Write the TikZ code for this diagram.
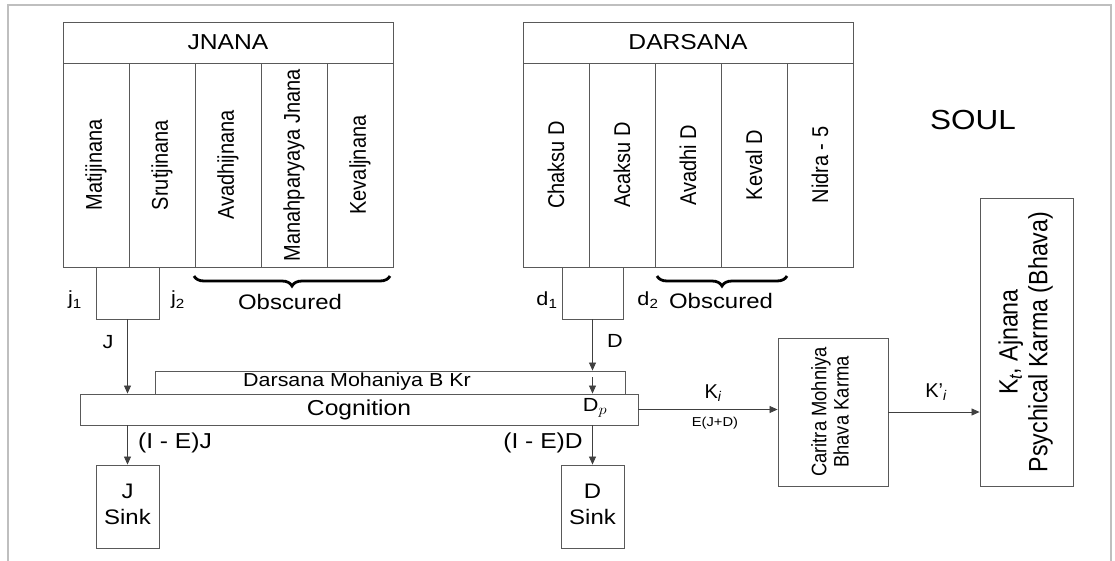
\documentclass[tikz,border=0pt]{standalone}
\usepackage{fontspec}
\setmainfont{Liberation Sans}
\usepackage{graphicx}
\usetikzlibrary{arrows.meta,decorations.pathreplacing,calc}

% horizontal text widened a little, rotated text likewise (as in the reference)
\newcommand\hwide[1]{\scalebox{1.14}[1]{#1}}
\newcommand\vwide[1]{\rotatebox{90}{\scalebox{1}[1.14]{#1}}}

\tikzset{
  box/.style={draw=black!65, line width=0.9pt, inner sep=0pt, align=center},
  arr/.style={draw=black!75, line width=0.8pt, -{Triangle[length=8pt,width=7pt]}},
  lbl/.style={inner sep=0pt, font=\fontsize{19}{22}\selectfont},
  col/.style={box, minimum width=66pt, minimum height=204pt, font=\fontsize{20}{24}\selectfont},
  hdr/.style={box, minimum width=330pt, minimum height=41pt, font=\fontsize{21.6}{26}\selectfont},
  smallbox/.style={box, minimum height=52pt},
  sinkbox/.style={box, minimum width=63pt, minimum height=83pt, font=\fontsize{21}{26}\selectfont},
  obrace/.style={decorate, decoration={brace, amplitude=10pt}, line width=2.8pt},
  frameline/.style={draw=black!25, line width=1.5pt},
}

\begin{document}
\begin{tikzpicture}[x=1pt,y=-1pt]
\useasboundingbox (0,0) rectangle (1115,560);
\draw[frameline] (8,565) -- (8,5) -- (1111,5) -- (1111,565);

% ---------- JNANA table ----------
\node[hdr] (jhead) at (228,42.5) {\hwide{JNANA}};
\node[col] (jc1) at (96,165)  {\vwide{Matijinana}};
\node[col] (jc2) at (162,165) {\vwide{Srutjinana}};
\node[col] (jc3) at (228,165) {\vwide{Avadhijnana}};
\node[col] (jc4) at (294,165) {\vwide{Manahparyaya Jnana}};
\node[col] (jc5) at (360,165) {\vwide{Kevaljnana}};
\node[smallbox, minimum width=63pt] (jbox) at (127.5,293) {};
\node[lbl] (j1) at (75,300) {\hwide{j\textsubscript{1}}};
\node[lbl] (j2) at (178,300) {\hwide{j\textsubscript{2}}};
\coordinate (jbA) at (390,276);
\coordinate (jbB) at (194,276);
\draw[obrace] (jbA) -- (jbB);
\node[lbl, font=\fontsize{21}{26}\selectfont] (jobs) at (290,302) {\hwide{Obscured}};

% ---------- DARSANA table ----------
\node[hdr] (dhead) at (688,42.5) {\hwide{DARSANA}};
\node[col] (dc1) at (556,165) {\vwide{Chaksu D}};
\node[col] (dc2) at (622,165) {\vwide{Acaksu D}};
\node[col] (dc3) at (688,165) {\vwide{Avadhi D}};
\node[col] (dc4) at (754,165) {\vwide{Keval D}};
\node[col] (dc5) at (820,165) {\vwide{Nidra - 5}};
\node[smallbox, minimum width=61pt] (dbox) at (592.5,293) {};
\node[lbl] (d1) at (547,300) {\hwide{d\textsubscript{1}}};
\node[lbl] (d2) at (648,300) {\hwide{d\textsubscript{2}}};
\coordinate (dbA) at (787,276);
\coordinate (dbB) at (657,276);
\draw[obrace] (dbA) -- (dbB);
\node[lbl, font=\fontsize{21}{26}\selectfont] (dobs) at (721,301) {\hwide{Obscured}};

\node[inner sep=0pt, font=\fontsize{27.6}{32}\selectfont] (soul) at (973,120) {\hwide{SOUL}};

% ---------- Cognition ----------
\node[box, minimum width=470pt, minimum height=23pt] (dm) at (390,382.5) {};
\node[inner sep=0pt, font=\fontsize{18.8}{22}\selectfont] (dmtext) at (357,382) {\hwide{Darsana Mohaniya B Kr}};
\node[box, fill=white, minimum width=558pt, minimum height=31pt, font=\fontsize{21.6}{26}\selectfont] (cog) at (359,409.5) {\hwide{Cognition}};
\node[lbl] (dp) at (595,408) {\hwide{D$_{p}$}};

\node[sinkbox] (jsink) at (127.5,506.5) {\hwide{\begin{tabular}{@{}c@{}}J\\Sink\end{tabular}}};
\node[sinkbox] (dsink) at (592.5,506.5) {\hwide{\begin{tabular}{@{}c@{}}D\\Sink\end{tabular}}};

\node[box, minimum width=110pt, minimum height=148pt, font=\fontsize{18.4}{19.5}\selectfont] (carit) at (833,412)
  {\vwide{\begin{tabular}{@{}c@{}}Caritra Mohniya\\Bhava Karma\end{tabular}}};
\node[box, minimum width=93pt, minimum height=288pt, font=\fontsize{23.2}{26}\selectfont] (bhava) at (1026.5,342)
  {\vwide{\begin{tabular}{@{}c@{}}K\textsubscript{\itshape t}, Ajnana\\Psychical Karma (Bhava)\end{tabular}}};

% ---------- connectors ----------
\draw[arr] (jbox.south) -- (jbox.south |- cog.north);
\node[lbl] (jlab) at (108,342) {\hwide{J}};
\draw[arr] (dbox.south) -- (dbox.south |- dm.north);
\node[lbl] (dlab) at (615,341) {\hwide{D}};
\coordinate (dmin) at (592.5,377);
\draw[arr] (dmin) -- (dmin |- cog.north);

\draw[arr] (jsink.north |- cog.south) -- (jsink.north);
\node[lbl, font=\fontsize{21.6}{26}\selectfont] (iej) at (175,443) {\hwide{(I - E)J}};
\draw[arr] (dsink.north |- cog.south) -- (dsink.north);
\node[lbl, font=\fontsize{21.6}{26}\selectfont] (ied) at (543,443) {\hwide{(I - E)D}};

\coordinate (cogout) at (cog.east);
\draw[arr] (cogout) -- (cogout -| carit.west);
\node[lbl, font=\fontsize{20}{24}\selectfont] (ki) at (713,393) {K\textsubscript{\itshape i}};
\node[lbl, font=\fontsize{12.9}{15}\selectfont] (ejd) at (715,423) {\hwide{E(J+D)}};

\draw[arr] (carit.east) -- (carit.east -| bhava.west);
\node[lbl, font=\fontsize{20}{24}\selectfont] (kpi) at (936,392) {K’\textsubscript{\itshape i}};
\end{tikzpicture}
\end{document}
